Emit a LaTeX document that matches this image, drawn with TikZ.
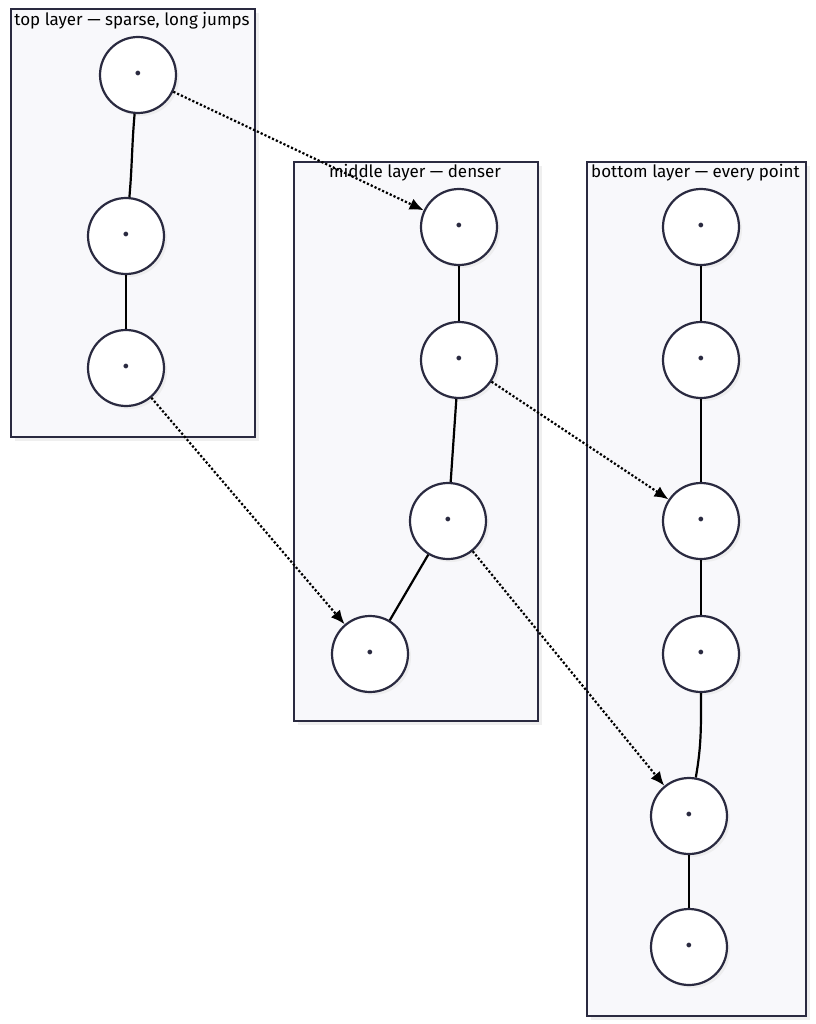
\documentclass[tikz,border=0pt]{standalone}
\usepackage{fontspec}
\setmainfont{Fira Sans}
\usetikzlibrary{shadows,arrows.meta}
\definecolor{ink}{HTML}{2A2A40}
\definecolor{boxfill}{HTML}{F8F8FB}
\newcommand{\ptdot}{\raisebox{-6.5pt}{·}}
\tikzset{
  layerbox/.style={draw=ink, line width=2.2pt, fill=boxfill, drop shadow={shadow xshift=4pt, shadow yshift=-4pt, fill=black!12}},
  pt/.style={circle, draw=ink, line width=2.2pt, fill=white, minimum size=76pt, inner sep=0pt, text height=0pt, text depth=0pt, text=ink, font=\bfseries\fontsize{26}{26}\selectfont, drop shadow={shadow xshift=3pt, shadow yshift=-3pt, fill=black!10}},
  title/.style={font=\fontsize{17}{19}\selectfont, text=black, anchor=center},
  link/.style={line width=2.2pt, black},
  jump/.style={line width=2.2pt, black, dotted, -{Latex[length=14pt,width=12pt]}}
}
\begin{document}
\begin{tikzpicture}[x=1pt,y=-1pt]
\useasboundingbox (0,0) rectangle (815,1024);
% layer boxes
\node[layerbox, minimum width=244pt, minimum height=428pt, anchor=north west, inner sep=0pt] (topbox) at (10,8) {};
\node[layerbox, minimum width=244pt, minimum height=559pt, anchor=north west, inner sep=0pt] (midbox) at (293,161) {};
\node[layerbox, minimum width=219pt, minimum height=854pt, anchor=north west, inner sep=0pt] (botbox) at (586,161) {};
\node[title] (toptitle) at (132,20.5) {top layer — sparse, long jumps};
% points
\node[pt] (t1) at (138,75) {\ptdot};
\node[pt] (t2) at (126,236) {\ptdot};
\node[pt] (t3) at (126,368) {\ptdot};
\node[pt] (m1) at (459,227) {\ptdot};
\node[pt] (m2) at (459,360) {\ptdot};
\node[pt] (m3) at (448,521) {\ptdot};
\node[pt] (m4) at (370,654) {\ptdot};
\node[pt] (b1) at (701,227) {\ptdot};
\node[pt] (b2) at (701,360) {\ptdot};
\node[pt] (b3) at (701,521) {\ptdot};
\node[pt] (b4) at (701,654) {\ptdot};
\node[pt] (b5) at (689,816) {\ptdot};
\node[pt] (b6) at (689,947) {\ptdot};
% within-layer links
\draw[link] (t1) to[out=-95,in=85] (t2);
\draw[link] (t2) -- (t3);
\draw[link] (m1) -- (m2);
\draw[link] (m2) -- (m3);
\draw[link] (m3) -- (m4);
\draw[link] (b1) -- (b2);
\draw[link] (b2) -- (b3);
\draw[link] (b3) -- (b4);
\draw[link] (b4) to[out=-90,in=80] (b5);
\draw[link] (b5) -- (b6);
% jumps between layers
\draw[jump] (t1) -- (m1);
\draw[jump] (t3) -- (m4);
\draw[jump] (m2) -- (b3);
\draw[jump] (m3) -- (b5);
% titles drawn last (middle title overlaps a jump)
\node[title] (midtitle) at (415,172.5) {middle layer — denser};
\node[title] (bottitle) at (695.5,172.5) {bottom layer — every point};
\end{tikzpicture}
\end{document}
